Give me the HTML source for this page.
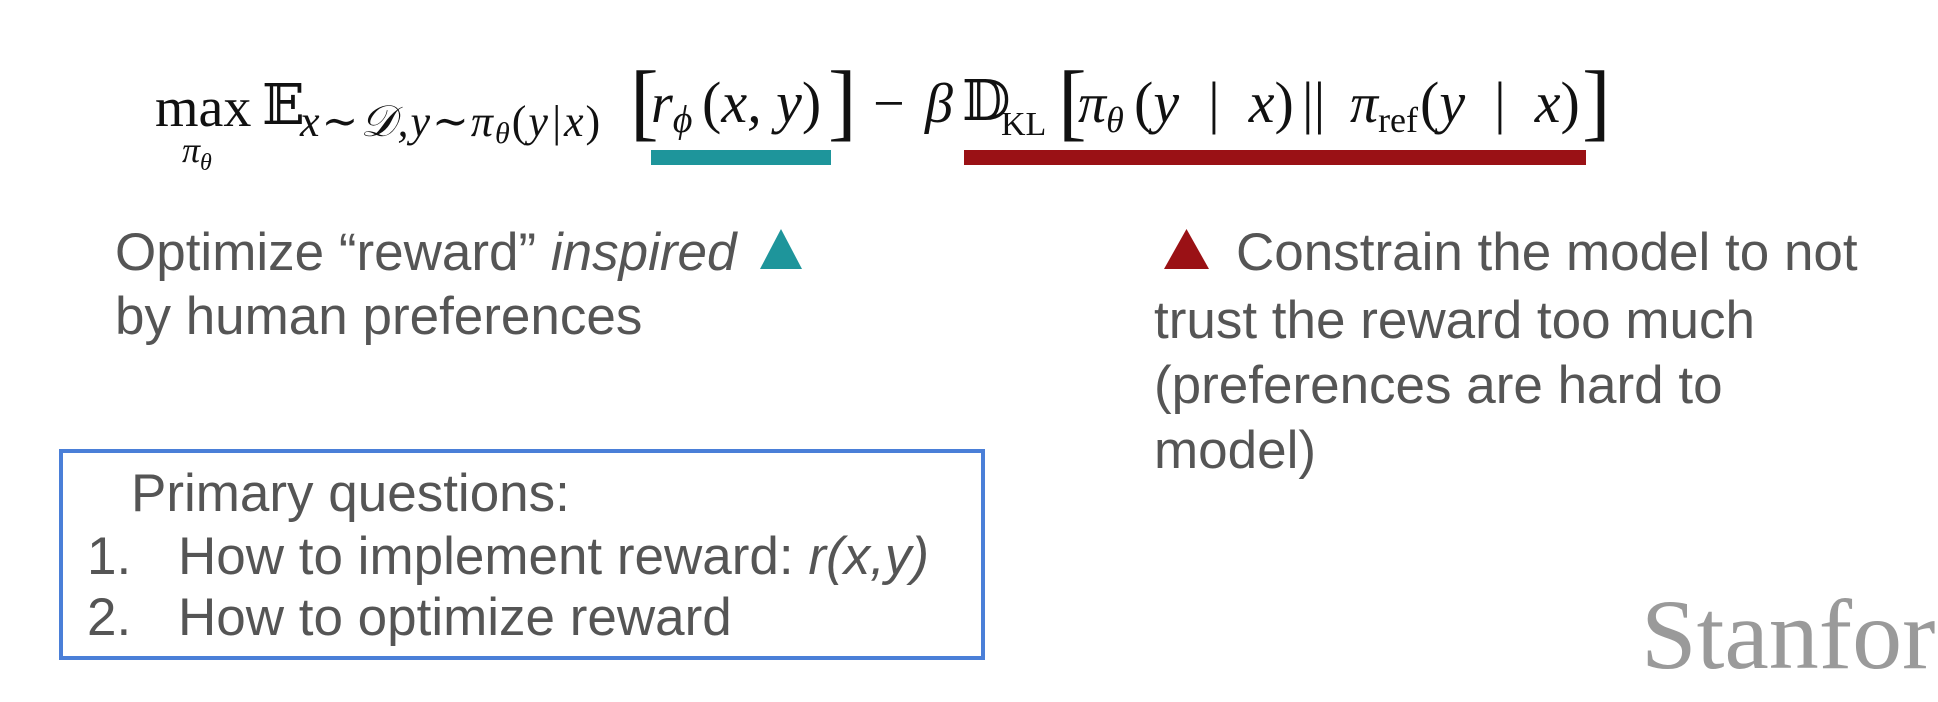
<!DOCTYPE html>
<html><head><meta charset="utf-8"><style>
html,body{margin:0;padding:0;background:#fff;}
#c{position:relative;width:1938px;height:702px;overflow:hidden;background:#fff;}
.m{position:absolute;font-family:"Liberation Serif","DejaVu Serif",serif;color:#111;white-space:nowrap;line-height:1;}
.i{font-style:italic;}
.t{position:absolute;font-family:"Liberation Sans",sans-serif;color:#555;font-size:53px;white-space:nowrap;line-height:1;}
</style></head><body><div id="c">
<!-- formula -->
<div class="m" style="left:155px;top:80px;font-size:56px;">max</div>
<div class="m i" style="left:182px;top:132px;font-size:36px;">π<sub style="font-size:24px;">θ</sub></div>
<div class="m" style="left:262px;top:78px;font-size:56px;">𝔼</div>
<div class="m i" style="left:300px;top:100px;font-size:44px;letter-spacing:2px;">x∼𝒟,y∼π<span style="font-size:30px;vertical-align:-7px;">θ</span><span style="font-style:normal">(</span>y|x<span style="font-style:normal">)</span></div>
<div class="m" style="left:630px;top:58px;font-size:86px;">[</div>
<div class="m i" style="left:651px;top:76px;font-size:56px;">r<span style="font-size:38px;vertical-align:-10px;">ϕ</span></div>
<div class="m i" style="left:702px;top:74px;font-size:58px;"><span style="font-style:normal">(</span>x, y<span style="font-style:normal">)</span></div>
<div class="m" style="left:828px;top:58px;font-size:86px;">]</div>
<div class="m" style="left:873px;top:76px;font-size:56px;">−</div>
<div class="m i" style="left:925px;top:76px;font-size:56px;">β</div>
<div class="m" style="left:962px;top:74px;font-size:56px;">𝔻</div>
<div class="m" style="left:1001px;top:108px;font-size:34px;">KL</div>
<div class="m" style="left:1058px;top:58px;font-size:86px;">[</div>
<div class="m i" style="left:1078px;top:76px;font-size:56px;">π<span style="font-size:36px;vertical-align:-10px;">θ</span></div>
<div class="m i" style="left:1134px;top:74px;font-size:58px;"><span style="font-style:normal">(</span>y &nbsp;<span style="font-style:normal">|</span>&nbsp; x<span style="font-style:normal">)</span></div>
<div class="m" style="left:1302px;top:74px;font-size:58px;">||</div>
<div class="m i" style="left:1350px;top:76px;font-size:56px;">π<span style="font-style:normal;font-size:36px;vertical-align:-10px;">ref</span></div>
<div class="m i" style="left:1420px;top:74px;font-size:58px;"><span style="font-style:normal">(</span>y &nbsp;<span style="font-style:normal">|</span>&nbsp; x<span style="font-style:normal">)</span></div>
<div class="m" style="left:1582px;top:58px;font-size:86px;">]</div>
<!-- bars -->
<div style="position:absolute;left:651px;top:150px;width:180px;height:15px;background:#1e959b;"></div>
<div style="position:absolute;left:964px;top:150px;width:622px;height:15px;background:#9a1115;"></div>
<!-- left text -->
<div class="t" style="left:115px;top:226px;">Optimize “reward” <i>inspired</i></div>
<svg style="position:absolute;left:760px;top:229px" width="42" height="40"><polygon points="21,0 42,40 0,40" fill="#1e959b"/></svg>
<div class="t" style="left:115px;top:290px;">by human preferences</div>
<!-- right text -->
<svg style="position:absolute;left:1164px;top:229px" width="45" height="40"><polygon points="22.5,0 45,40 0,40" fill="#9a1115"/></svg>
<div class="t" style="left:1236px;top:226px;">Constrain the model to not</div>
<div class="t" style="left:1154px;top:294px;">trust the reward too much</div>
<div class="t" style="left:1154px;top:359px;">(preferences are hard to</div>
<div class="t" style="left:1154px;top:424px;">model)</div>
<!-- box -->
<div style="position:absolute;left:59px;top:449px;width:918px;height:203px;border:4px solid #4a7fd8;"></div>
<div class="t" style="left:131px;top:467px;">Primary questions:</div>
<div class="t" style="left:87px;top:530px;">1.</div>
<div class="t" style="left:178px;top:530px;">How to implement reward: <i>r(x,y)</i></div>
<div class="t" style="left:87px;top:591px;">2.</div>
<div class="t" style="left:178px;top:591px;">How to optimize reward</div>
<!-- Stanford -->
<div class="m" style="left:1641px;top:585px;font-size:100px;color:#9a9a9a;">Stanford</div>
</div></body></html>
